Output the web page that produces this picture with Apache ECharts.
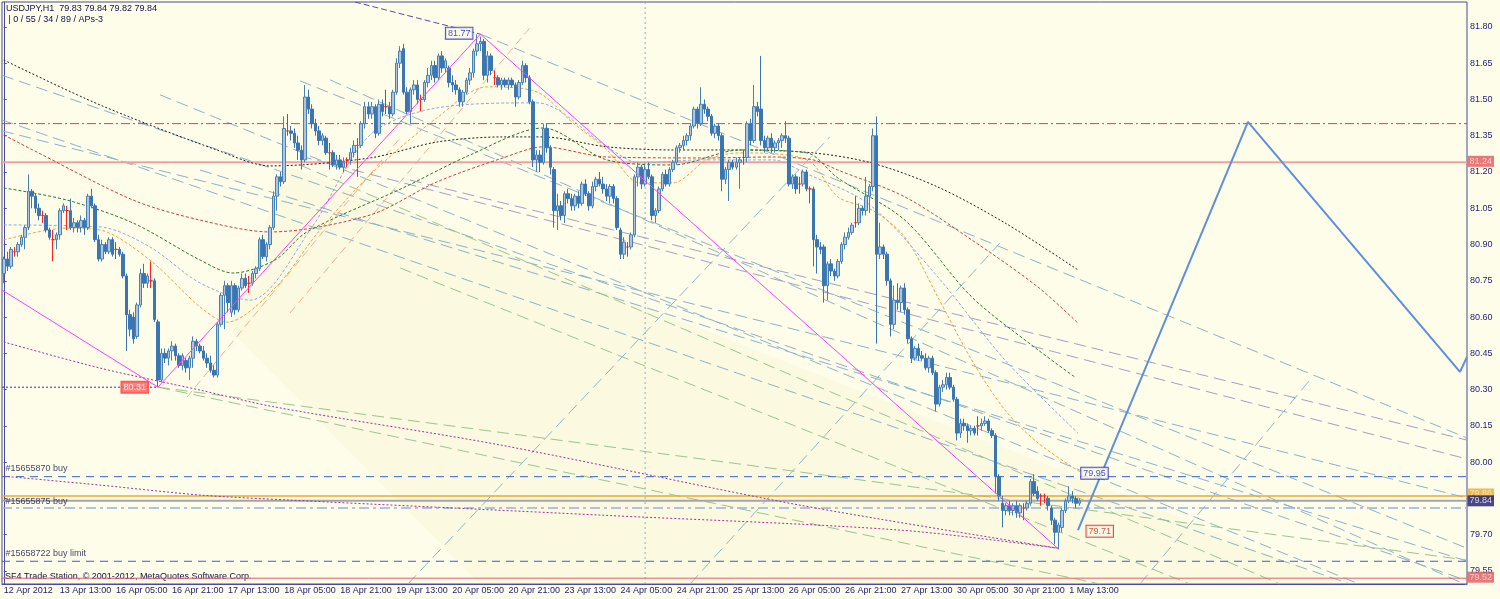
<!DOCTYPE html>
<html><head><meta charset="utf-8">
<script src="https://cdn.jsdelivr.net/npm/echarts@6/dist/echarts.min.js"></script>
<style>html,body{margin:0;padding:0;background:#fdfdea}#c{width:1500px;height:599px}</style>
</head><body><div id="c"></div>
<script>
// ---- data ----
const tickLabels = ['12 Apr 2012','13 Apr 13:00','16 Apr 05:00','16 Apr 21:00','17 Apr 13:00','18 Apr 05:00','18 Apr 21:00','19 Apr 13:00','20 Apr 05:00','20 Apr 21:00','23 Apr 13:00','24 Apr 05:00','24 Apr 21:00','25 Apr 13:00','26 Apr 05:00','26 Apr 21:00','27 Apr 13:00','30 Apr 05:00','30 Apr 21:00','1 May 13:00'];
const yTicks = [79.55,79.70,79.85,80.00,80.15,80.30,80.45,80.60,80.75,80.90,81.05,81.20,81.35,81.50,81.65,81.80];
const slotCount = 418;           // hourly slots incl. empty future area
const labelEvery = 16;
// [open, close, low, high]
const candles = [
[80.78,80.84,80.74,80.85],[80.84,80.81,80.79,80.87],[80.81,80.88,80.80,80.89],[80.87,80.87,80.85,80.89],[80.87,80.90,80.85,80.91],
[80.90,80.93,80.89,80.94],[80.93,80.97,80.88,80.98],[80.97,81.12,80.96,81.19],[81.12,81.10,81.05,81.13],[81.10,81.05,81.03,81.11],
[81.05,81.02,81.00,81.07],[81.02,81.02,80.99,81.04],[81.02,80.96,80.95,81.03],[80.96,80.93,80.92,80.97],[80.92,80.92,80.83,80.96],
[80.92,80.94,80.88,80.95],[80.94,81.04,80.92,81.05],[81.04,81.06,81.03,81.07],[81.04,81.04,80.96,81.06],[81.04,80.97,80.96,81.09],
[80.97,80.99,80.95,81.01],[80.99,80.97,80.95,81.00],[80.97,81.00,80.95,81.02],[81.00,80.97,80.94,81.01],[80.97,81.10,80.96,81.11],
[81.10,81.06,81.05,81.13],[81.06,80.92,80.91,81.07],[80.92,80.84,80.83,80.94],[80.84,80.90,80.83,80.92],[80.90,80.87,80.86,80.91],
[80.87,80.92,80.86,80.93],[80.92,80.86,80.85,80.93],[80.88,80.88,80.84,80.91],[80.88,80.86,80.85,80.89],[80.86,80.77,80.76,80.87],
[80.77,80.61,80.46,80.78],[80.61,80.55,80.52,80.63],[80.60,80.51,80.49,80.62],[80.52,80.65,80.51,80.66],[80.65,80.78,80.64,80.80],
[80.78,80.74,80.72,80.82],[80.74,80.77,80.72,80.78],[80.75,80.75,80.72,80.83],[80.75,80.59,80.58,80.76],[80.58,80.34,80.31,80.59],
[80.34,80.45,80.33,80.47],[80.45,80.43,80.41,80.47],[80.43,80.46,80.40,80.47],[80.46,80.48,80.42,80.50],[80.48,80.44,80.42,80.49],
[80.44,80.40,80.39,80.45],[80.40,80.44,80.38,80.45],[80.42,80.39,80.37,80.43],[80.39,80.43,80.34,80.44],[80.43,80.50,80.39,80.52],
[80.50,80.48,80.46,80.51],[80.48,80.46,80.45,80.49],[80.46,80.43,80.42,80.48],[80.43,80.41,80.39,80.45],[80.41,80.38,80.37,80.44],
[80.38,80.36,80.35,80.40],[80.36,80.57,80.35,80.58],[80.57,80.69,80.56,80.70],[80.69,80.73,80.55,80.75],[80.73,80.66,80.62,80.74],
[80.62,80.73,80.60,80.75],[80.73,80.63,80.61,80.74],[80.63,80.72,80.62,80.73],[80.72,80.76,80.71,80.78],[80.76,80.73,80.72,80.78],
[80.74,80.74,80.70,80.77],[80.74,80.78,80.73,80.79],[80.78,80.80,80.76,80.81],[80.80,80.92,80.79,80.93],[80.92,80.85,80.84,80.94],
[80.85,80.90,80.83,80.91],[80.90,80.97,80.88,80.98],[80.97,81.10,80.96,81.12],
[81.10,81.18,81.04,81.19],[81.18,81.16,81.14,81.20],[81.16,81.38,81.15,81.43],[81.37,81.37,81.35,81.44],[81.37,81.36,81.33,81.39],
[81.36,81.32,81.30,81.38],[81.32,81.29,81.25,81.35],[81.29,81.25,81.21,81.31],[81.25,81.51,81.24,81.56],[81.51,81.46,81.44,81.54],
[81.46,81.40,81.38,81.48],[81.40,81.37,81.35,81.42],[81.37,81.33,81.31,81.39],[81.33,81.35,81.31,81.36],[81.34,81.28,81.27,81.35],
[81.28,81.28,81.21,81.32],[81.28,81.23,81.22,81.29],[81.23,81.25,81.21,81.27],[81.25,81.22,81.21,81.27],[81.22,81.24,81.20,81.26],
[81.25,81.25,81.22,81.26],[81.25,81.28,81.23,81.30],[81.28,81.31,81.26,81.33],[81.31,81.31,81.18,81.34],[81.31,81.40,81.30,81.41],
[81.40,81.47,81.38,81.49],[81.47,81.44,81.42,81.49],[81.44,81.47,81.42,81.49],[81.47,81.36,81.34,81.48],[81.36,81.48,81.35,81.50],
[81.48,81.45,81.43,81.50],[81.47,81.47,81.44,81.54],[81.47,81.44,81.42,81.49],[81.44,81.53,81.43,81.54],[81.53,81.65,81.52,81.67],
[81.65,81.70,81.63,81.72],[81.71,81.53,81.52,81.73],[81.53,81.45,81.44,81.55],[81.45,81.54,81.40,81.55],[81.54,81.56,81.52,81.58],
[81.56,81.50,81.48,81.58],[81.50,81.50,81.45,81.52],[81.50,81.57,81.49,81.58],[81.57,81.60,81.55,81.63],[81.60,81.64,81.58,81.66],
[81.64,81.59,81.57,81.66],[81.59,81.68,81.58,81.69],[81.68,81.63,81.61,81.70],[81.63,81.66,81.61,81.67],[81.63,81.57,81.55,81.64],
[81.57,81.56,81.53,81.60],[81.56,81.54,81.52,81.58],[81.54,81.49,81.47,81.55],[81.49,81.53,81.47,81.54],[81.53,81.58,81.52,81.59],
[81.58,81.61,81.56,81.63],[81.61,81.70,81.59,81.71],[81.70,81.73,81.68,81.77],[81.73,81.74,81.70,81.76],[81.74,81.60,81.58,81.75],
[81.60,81.68,81.57,81.70],[81.68,81.62,81.60,81.69],[81.59,81.59,81.56,81.62],[81.59,81.56,81.55,81.60],[81.56,81.58,81.54,81.59],
[81.58,81.56,81.55,81.59],[81.56,81.58,81.54,81.59],[81.58,81.56,81.55,81.59],[81.56,81.51,81.47,81.57],[81.51,81.57,81.50,81.58],
[81.57,81.64,81.56,81.66],[81.64,81.59,81.57,81.65],[81.59,81.49,81.48,81.60],[81.49,81.25,81.22,81.50],[81.25,81.27,81.20,81.29],
[81.27,81.24,81.20,81.29],[81.24,81.38,81.23,81.40],
[81.38,81.30,81.28,81.40],[81.30,81.22,81.19,81.31],[81.21,81.04,80.97,81.22],[81.04,81.06,80.96,81.11],[81.06,81.02,81.00,81.08],
[81.02,81.11,80.99,81.12],[81.11,81.09,81.07,81.13],[81.09,81.06,81.04,81.11],[81.06,81.10,81.04,81.11],[81.10,81.07,81.05,81.12],
[81.07,81.15,81.06,81.16],[81.15,81.11,81.10,81.17],[81.11,81.06,81.04,81.12],[81.06,81.14,81.05,81.16],[81.14,81.17,81.12,81.18],
[81.17,81.15,81.14,81.20],[81.15,81.13,81.11,81.18],[81.13,81.10,81.08,81.15],[81.10,81.14,81.07,81.15],[81.14,81.09,81.07,81.15],
[81.09,80.97,80.96,81.10],[80.96,80.86,80.84,80.97],[80.86,80.91,80.84,80.93],[80.89,80.89,80.85,80.91],[80.89,80.94,80.88,80.95],
[80.94,81.18,80.93,81.19],[81.18,81.22,81.14,81.24],[81.22,81.15,81.13,81.23],[81.15,81.21,81.14,81.23],[81.21,81.18,81.17,81.24],
[81.18,81.02,81.00,81.19],[81.02,81.04,80.99,81.05],[81.04,81.13,81.03,81.14],[81.13,81.19,81.12,81.20],[81.19,81.15,81.14,81.21],
[81.15,81.21,81.14,81.22],[81.21,81.24,81.20,81.25],[81.24,81.30,81.23,81.31],[81.30,81.31,81.28,81.32],[81.31,81.33,81.29,81.35],
[81.33,81.35,81.31,81.36],[81.35,81.39,81.33,81.40],[81.39,81.46,81.38,81.47],[81.46,81.40,81.38,81.47],[81.40,81.48,81.39,81.55],
[81.48,81.46,81.44,81.50],[81.46,81.43,81.41,81.47],[81.43,81.36,81.35,81.44],[81.36,81.39,81.34,81.40],[81.39,81.35,81.33,81.40],
[81.35,81.17,81.12,81.36],[81.17,81.21,81.15,81.22],[81.21,81.24,81.08,81.25],[81.24,81.22,81.21,81.25],[81.22,81.24,81.21,81.26],
[81.24,81.25,81.13,81.26],[81.26,81.26,81.23,81.29],[81.26,81.40,81.24,81.41],[81.40,81.33,81.31,81.42],[81.33,81.47,81.32,81.56],
[81.47,81.45,81.43,81.49],[81.46,81.33,81.31,81.68],[81.33,81.30,81.28,81.35],[81.30,81.34,81.29,81.35],[81.34,81.30,81.28,81.36],
[81.30,81.32,81.28,81.33],[81.32,81.33,81.29,81.34],[81.33,81.35,81.30,81.36],[81.35,81.34,81.32,81.41],[81.34,81.15,81.14,81.35],
[81.15,81.18,81.13,81.19],[81.18,81.13,81.11,81.19],[81.15,81.15,81.11,81.18],[81.15,81.20,81.14,81.21],[81.20,81.13,81.12,81.21],
[81.13,81.13,81.07,81.14],[81.13,80.92,80.81,81.14],
[80.92,80.89,80.78,80.94],[80.89,80.88,80.86,80.91],[80.89,80.73,80.66,80.90],[80.73,80.82,80.67,80.83],[80.82,80.79,80.77,80.84],
[80.79,80.77,80.75,80.80],[80.77,80.83,80.76,80.84],[80.83,80.90,80.82,80.91],[80.90,80.93,80.88,80.95],[80.93,80.95,80.92,80.97],
[80.95,80.98,80.94,80.99],[80.99,80.99,80.97,81.10],[80.99,81.05,80.98,81.07],[81.05,81.04,81.02,81.06],[81.04,81.10,81.02,81.18],
[81.10,81.14,81.03,81.15],[81.14,81.35,81.12,81.38],[81.35,80.86,80.49,81.43],[80.86,80.89,80.84,80.99],[80.89,80.86,80.84,80.90],
[80.86,80.75,80.73,80.87],[80.75,80.57,80.52,80.76],[80.57,80.67,80.55,80.73],[80.67,80.66,80.63,80.74],[80.66,80.72,80.62,80.73],
[80.72,80.63,80.61,80.74],[80.63,80.51,80.49,80.64],[80.51,80.43,80.41,80.52],[80.43,80.47,80.42,80.48],[80.47,80.44,80.42,80.49],
[80.44,80.43,80.42,80.46],[80.43,80.39,80.38,80.45],[80.39,80.43,80.37,80.44],[80.43,80.37,80.36,80.44],[80.37,80.24,80.21,80.38],
[80.24,80.31,80.23,80.32],[80.31,80.32,80.29,80.34],[80.32,80.35,80.30,80.37],[80.35,80.31,80.30,80.37],[80.31,80.26,80.25,80.32],
[80.26,80.12,80.09,80.27],[80.12,80.16,80.10,80.18],[80.16,80.15,80.13,80.18],[80.15,80.13,80.08,80.16],[80.13,80.14,80.11,80.15],
[80.14,80.12,80.11,80.15],[80.15,80.15,80.11,80.19],[80.15,80.16,80.13,80.18],[80.16,80.17,80.15,80.19],[80.17,80.13,80.12,80.18],
[80.13,80.11,80.10,80.14],[80.11,79.94,79.87,80.12],[79.94,79.86,79.84,79.95],[79.83,79.80,79.73,79.86],[79.80,79.82,79.78,79.83],
[79.82,79.80,79.78,79.84],[79.80,79.82,79.78,79.83],[79.82,79.79,79.77,79.84],[79.79,79.82,79.77,79.83],[79.81,79.81,79.76,79.83],
[79.81,79.83,79.80,79.84],[79.83,79.92,79.82,79.93],[79.92,79.87,79.86,79.95],[79.88,79.85,79.84,79.90],[79.86,79.86,79.82,79.87],
[79.86,79.86,79.83,79.87],[79.85,79.82,79.80,79.86],[79.81,79.76,79.74,79.82],[79.76,79.71,79.66,79.77],[79.71,79.74,79.64,79.75],
[79.73,79.80,79.71,79.81],[79.80,79.84,79.79,79.85],[79.84,79.86,79.83,79.90],[79.86,79.85,79.83,79.88],[79.85,79.83,79.81,79.86],
[79.83,79.84,79.82,79.85]
];
// moving averages / envelopes: [slot index, price]
const maBlack = [[0,81.663],[27.5,81.477],[60.8,81.291],[76,81.225],[104.5,81.258],[123.6,81.324],[142.4,81.345],[153.9,81.345],[172.1,81.304],[191,81.291],[210.1,81.291],[230.9,81.279],[247.7,81.237],[266.5,81.138],[285.7,80.989],[306.5,80.795]];
const maGreen = [[0,81.134],[18,81.084],[36.9,80.989],[56,80.836],[65.4,80.782],[77.4,80.836],[86.5,80.952],[113.9,81.134],[133,81.270],[153.9,81.382],[172.1,81.250],[191,81.229],[210.1,81.291],[229.2,81.279],[238,81.175],[257.1,81.001],[276.2,80.683],[295.1,80.464],[305.6,80.352]];
const maRed = [[0,81.353],[8.3,81.291],[36.9,81.084],[56,81.001],[76,80.952],[104.5,81.022],[123.6,81.159],[142.4,81.258],[153.9,81.304],[172.1,81.262],[200.6,81.258],[219.5,81.262],[230.9,81.250],[238,81.208],[257.1,81.097],[276.2,80.919],[295.1,80.724],[306.5,80.575]];
const maOrange = [[0,80.919],[18,80.968],[27.5,80.960],[41.7,80.836],[56,80.642],[63.7,80.579],[77.4,80.720],[90.2,80.960],[104.5,81.188],[123.6,81.424],[137.9,81.552],[152.1,81.531],[162.4,81.403],[172.1,81.291],[181.5,81.155],[191,81.155],[200.6,81.250],[210.1,81.279],[229.2,81.250],[238,81.097],[247.7,81.043],[257.1,80.931],[266.5,80.683],[276.2,80.422],[285.7,80.215],[295.1,80.079],[307.6,79.955]];
const maBlue = [[0,80.981],[27.5,80.973],[41.7,80.890],[56,80.741],[70.3,80.670],[87.4,80.960],[104.5,81.353],[123.6,81.465],[152.1,81.486],[172.1,81.304],[181.5,81.237],[198.6,81.250],[219.5,81.250],[228.6,81.196],[247.1,81.064],[266.5,80.766],[285.7,80.422],[306.5,80.120]];
const arcUpper = [[0,80.497],[27.5,80.389],[56,80.298],[77.4,80.228],[141.6,80.071],[227.2,79.822],[300.8,79.644]];
const arcLower = [[0,79.942],[27.5,79.905],[56,79.864],[81.7,79.843],[170.1,79.781],[255.7,79.719],[300.8,79.644]];
const zigzag = [[-0.5,80.712],[44,80.31],[136,81.77],[301,79.64]];
const projection = [[306.5,79.719],[355,81.407],[415.5,80.373],[417.5,80.435]];
const hLines = {r1:81.40, r2:81.24, o1:79.94, o2:79.86, bid:79.84, o3:79.81, o4:79.59, r3:79.52};
// trend / channel lines: [[slot, price],[slot, price]]
const trendBlue = [
  [[136,81.77],[417.5,80.10]], [[-0.5,81.60],[417.5,79.51]], [[-0.5,81.415],[384.1,79.496]],
  [[-0.5,81.37],[417.5,79.852]], [[93.1,81.581],[417.5,79.491]], [[44.6,81.519],[386.7,79.496]],
  [[84.5,81.577],[417.5,79.644]], [[56,81.208],[417.5,79.591]]
];
const trendPurple = [ [[84.5,81.266],[417.5,80.013]], [[115.9,81.167],[417.5,80.091]] ];
const trendGreen = [ [[44,80.31],[417.5,79.595]], [[44,80.31],[312.8,79.496]], [[84.5,81.229],[364.1,79.496]], [[113.1,80.803],[338.4,79.496]] ];
const trendRising = [ [[115.3,79.496],[235.7,81.345]], [[195.8,79.496],[284.2,80.906]], [[324.2,79.496],[372.7,80.34]] ];
const fanSalmon = [ [[52.3,80.269],[113.1,81.341]], [[81.7,80.617],[150.1,81.796]] ];
const fanArea = [[80.2,81.229],[327.0,79.822],[381.2,79.496],[135.9,79.496],[64.5,80.546]];

// ---- chart ----
const X0 = -0.5, X1 = slotCount - 0.5;
function line(data, color, type, width, z, smooth) {
  return {type:'line', xAxisIndex:1, data, symbol:'none', silent:true, smooth: smooth||false,
    lineStyle:{color, type, width: width||1}, z: z||2, animation:false};
}
function hline(p, color, type, width, z) { return line([[X0,p],[X1,p]], color, type, width, z); }
function tag(pt, text, st) {
  return {type:'scatter', xAxisIndex:1, data:[pt], symbolSize:1, itemStyle:{color:'rgba(0,0,0,0)'}, clip:false, silent:true, z:20, animation:false,
    label:Object.assign({show:true, formatter:text, fontSize:9, fontFamily:'Liberation Sans'}, st)};
}
const cats = Array.from({length: slotCount}, (_, i) => String(i));
const showTick = i => i % labelEvery === 0 && i / labelEvery < tickLabels.length;

const series = [
  {type:'custom', xAxisIndex:1, silent:true, z:1, animation:false, data:[0],
   renderItem:(params, api) => ({type:'polygon', shape:{points: fanArea.map(p => api.coord(p))},
     style:{fill:'rgba(236,226,160,0.13)'}})},
  // horizontal levels
  hline(hLines.r1, '#ff2a6a', [9,3,2,3], 1, 3),
  hline(hLines.r2, '#f2a0a0', 'solid', 2, 3),
  hline(hLines.o1, '#3a66d8', [8,6], 1, 3),
  hline(hLines.o2, '#e8a830', 'solid', 1.5, 3),
  hline(hLines.bid, '#a4a4b0', 'solid', 2, 3),
  hline(hLines.o3, '#98b0e0', [10,4,3,4], 1.5, 3),
  hline(hLines.o4, '#3a5ae0', [8,6], 1, 3),
  hline(hLines.r3, '#e06070', 'solid', 1, 3),
  line([[X0,80.31],[44,80.31]], '#3030b0', [2,2], 1, 4),
  line([[183,79.496],[183,81.903]], '#8ab0cc', [2,3], 1, 2),
  // trend lines
  ...trendBlue.map(d => line(d, '#8db2c6', [12,6], 1, 2)),
  ...trendPurple.map(d => line(d, '#a69ec6', [12,6], 1, 2)),
  ...trendGreen.map(d => line(d, '#9cc48e', [12,6], 1, 2)),
  ...trendRising.map(d => line(d, '#8cb8c8', [12,6], 1, 2)),
  ...fanSalmon.map(d => line(d, '#f2ae96', [8,5], 1, 2)),
  // moving averages
  line(maBlack, '#202020', [2,2], 1, 4, 0.3),
  line(maGreen, '#2a7a2a', [3,2], 1, 4, 0.3),
  line(maRed, '#c84040', [3,2], 1, 4, 0.3),
  line(maOrange, '#f0a040', [3,2], 1, 4, 0.3),
  line(maBlue, '#90a8e0', [3,2], 1, 4, 0.3),
  line(arcUpper, '#a030a0', [2,2], 1, 4, 0.3),
  line(arcLower, '#a030a0', [2,2], 1, 4, 0.3),
  // swings
  line(zigzag, '#ff40ff', 'solid', 1, 6),
  line([[100.2,81.903],[136,81.77]], '#5a4ab8', [6,3], 1, 6),
  line(projection, '#5f8fdc', 'solid', 2, 7),
  // candles
  {type:'candlestick', xAxisIndex:0, data:candles, barWidth:3, z:5, animation:false,
   itemStyle:{color:'#b0c4de', color0:'#3a76b2', borderColor:'#4682b4', borderColor0:'#3a76b2', borderColorDoji:'#ff2020', borderWidth:1}},
  // tags
  tag([136,81.77], '81.77', {position:[-34,-6], color:'#2020c0', borderColor:'#2020c0', borderWidth:1, backgroundColor:'#fdfdea', padding:[1,2]}),
  tag([44,80.31], '80.31', {position:[-36,-5], color:'#ffffff', borderColor:'#ff3030', borderWidth:1, backgroundColor:'#ff6060', padding:[1,2]}),
  tag([307,79.95], '79.95', {position:[2,-6], color:'#2020c0', borderColor:'#2020c0', borderWidth:1, backgroundColor:'#fdfdea', padding:[1,2]}),
  tag([308.5,79.71], '79.71', {position:[2,-6], color:'#e02020', borderColor:'#e02020', borderWidth:1, backgroundColor:'#fdfdea', padding:[1,2]}),
  tag([X0,hLines.o1], '#15655870 buy', {position:[4,-12], color:'#10104a'}),
  tag([X0,hLines.bid], '#15655875 buy', {position:[4,-3], color:'#10104a'}),
  tag([X0,hLines.o4], '#15658722 buy limit', {position:[4,-12], color:'#10104a'}),
  // right-axis price boxes
  tag([X1,hLines.r2], '81.24', {position:[1,-6], color:'#ffe0e0', backgroundColor:'#e05858', padding:[1,2]}),
  tag([X1,hLines.o2], '79.86', {position:[1,-7], color:'#fff0c0', backgroundColor:'#e8a830', padding:[1,2]}),
  tag([X1,hLines.bid], '79.84', {position:[1,-5], color:'#ffffff', backgroundColor:'#1a1a70', padding:[1,2]}),
  tag([X1,hLines.r3], '79.52', {position:[1,-6], color:'#ffe0e0', backgroundColor:'#e05858', padding:[1,2]})
];

const chart = echarts.init(document.getElementById('c'), null, {renderer:'canvas'});
chart.setOption({
  backgroundColor:'#fdfdea',
  animation:false,
  textStyle:{fontFamily:'Liberation Sans'},
  grid:{left:2, right:33, top:2, bottom:15, show:true, borderColor:'#4b4b9b', borderWidth:1, backgroundColor:'transparent'},
  xAxis:[
    {type:'category', data:cats, boundaryGap:true, gridIndex:0,
     axisLine:{lineStyle:{color:'#4b4b9b'}},
     axisTick:{interval:(i)=>showTick(i), alignWithLabel:true, length:3, lineStyle:{color:'#4b4b9b'}},
     axisLabel:{interval:(i)=>showTick(i), formatter:(v,i)=>tickLabels[i/labelEvery]||'', align:'left', margin:2, fontSize:9, color:'#1c1c7a', fontFamily:'Liberation Sans'},
     splitLine:{show:false}},
    {type:'value', min:X0, max:X1, show:false, gridIndex:0}
  ],
  yAxis:{type:'value', position:'right', min:79.496, max:81.903, scale:true,
    axisLine:{show:true, lineStyle:{color:'#4b4b9b'}},
    axisTick:{show:true, customValues:yTicks, length:3, lineStyle:{color:'#4b4b9b'}},
    axisLabel:{customValues:yTicks, formatter:v=>v.toFixed(2), margin:3, fontSize:9, color:'#1c1c7a', fontFamily:'Liberation Sans'},
    splitLine:{show:false}},
  graphic:[
    {type:'text', left:6, top:4, style:{text:'USDJPY,H1  79.83 79.84 79.82 79.84', fill:'#10104a', font:'9px "Liberation Sans"'}},
    {type:'text', left:6, top:15, style:{text:' | 0 / 55 / 34 / 89 / APs-3', fill:'#10104a', font:'9px "Liberation Sans"'}},
    {type:'text', left:5, top:572, style:{text:'SF4 Trade Station, © 2001-2012, MetaQuotes Software Corp.', fill:'#10104a', font:'9px "Liberation Sans"'}}
  ],
  series
});
</script></body></html>
